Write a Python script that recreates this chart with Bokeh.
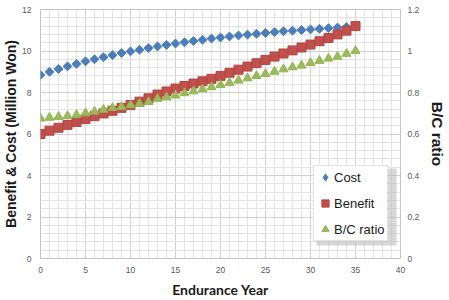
import math
from bokeh.plotting import figure
from bokeh.models import (Range1d, LinearAxis, Legend, LegendItem, CustomJSTickFormatter,
                          BoxAnnotation, FixedTicker)
from bokeh.embed import file_html
from bokeh.resources import INLINE

years = list(range(0, 36))
cost = [8.85, 9.0, 9.13, 9.26, 9.38, 9.5, 9.6, 9.7, 9.8, 9.9, 9.98, 10.06, 10.14, 10.22,
        10.29, 10.36, 10.42, 10.48, 10.54, 10.6, 10.65, 10.7, 10.75, 10.79, 10.83, 10.87,
        10.91, 10.95, 10.98, 11.01, 11.04, 11.07, 11.1, 11.13, 11.15, 11.18]
benefit = [6.0, 6.16, 6.3, 6.44, 6.58, 6.72, 6.86, 6.99, 7.12, 7.26, 7.4, 7.56, 7.72, 7.9,
           8.05, 8.19, 8.31, 8.43, 8.54, 8.66, 8.8, 8.95, 9.1, 9.25, 9.41, 9.57, 9.73, 9.88,
           10.03, 10.17, 10.31, 10.47, 10.63, 10.8, 10.98, 11.2]
bc_ratio = [0.675, 0.679, 0.683, 0.687, 0.692, 0.7, 0.708, 0.717, 0.726, 0.731, 0.739, 0.746,
            0.755, 0.77, 0.777, 0.786, 0.797, 0.806, 0.816, 0.826, 0.837, 0.847, 0.858, 0.869,
            0.88, 0.89, 0.901, 0.912, 0.922, 0.93, 0.943, 0.953, 0.964, 0.973, 0.987, 1.0]
ratio_ticks = [0, 0.2, 0.4, 0.6, 0.8, 1.0, 1.2]

BLUE = "#4A7EBB"
RED = "#C0504D"
GREEN = "#9BBB59"

p = figure(width=449, height=300, output_backend="svg", toolbar_location=None,
           x_range=Range1d(0, 40), y_range=Range1d(0, 12),
           min_border_left=37, min_border_right=46, min_border_top=9, min_border_bottom=42)
p.extra_y_ranges = {"ratio": Range1d(0, 1.2)}
p.background_fill_color = "white"
p.border_fill_color = "white"
p.outline_line_color = "#c4c4c4"

tick_font = "Liberation Sans"
label_color = "#1a1a1a"


def style_axis(ax):
    ax.axis_line_color = None
    ax.major_tick_line_color = None
    ax.minor_tick_line_color = None
    ax.major_tick_out = 0
    ax.major_tick_in = 0
    ax.minor_tick_out = 0
    ax.minor_tick_in = 0
    ax.major_label_text_font = tick_font
    ax.major_label_text_font_size = "8.5px"
    ax.major_label_text_color = "#595959"
    ax.axis_label_text_font_style = "bold"
    ax.axis_label_text_font_size = "14px"
    ax.axis_label_text_color = label_color


style_axis(p.xaxis[0])
style_axis(p.yaxis[0])

p.xaxis[0].ticker.desired_num_ticks = 8
p.xaxis[0].ticker.num_minor_ticks = 5
p.yaxis[0].ticker.num_minor_ticks = 5
p.xaxis[0].major_label_standoff = 8
p.yaxis[0].major_label_standoff = 9

p.xaxis[0].axis_label = "Endurance Year"
p.xaxis[0].axis_label_text_font = "Lato"
p.xaxis[0].axis_label_standoff = 5

p.yaxis[0].axis_label = "Benefit & Cost (Million Won)"
p.yaxis[0].axis_label_text_font = "Liberation Sans"
p.yaxis[0].axis_label_standoff = 0

ry = LinearAxis(y_range_name="ratio", axis_label="B/C ratio",
                ticker=FixedTicker(ticks=ratio_ticks))
style_axis(ry)
ry.major_label_standoff = 7
ry.axis_label_text_font = "Liberation Sans"
ry.axis_label_text_font_size = "15.5px"
ry.axis_label_standoff = 7
ry.formatter = CustomJSTickFormatter(code="return String(Math.round(tick*10)/10);")
p.add_layout(ry, "right")

p.xgrid.grid_line_color = "#d0d0d0"
p.ygrid.grid_line_color = "#d0d0d0"
p.xgrid.minor_grid_line_color = "#e4e4e4"
p.ygrid.minor_grid_line_color = "#e4e4e4"

r_cost = p.scatter(years, cost, marker="square", angle=math.pi / 4, size=6.3,
                   fill_color=BLUE, line_color=BLUE)
r_ben = p.scatter(years, benefit, marker="square", size=9, fill_color=RED, line_color="#B5453F")
r_bc = p.scatter(years, bc_ratio, marker="triangle", size=9, fill_color=GREEN, line_color="#93B353",
                 y_range_name="ratio")
# legend-only swatch for the Cost series (a single undrawable NaN point)
r_cost_key = p.scatter([float("nan")], [float("nan")], marker="diamond", size=8,
                       fill_color=BLUE, line_color=BLUE)

shadow = BoxAnnotation(left=276, right=356, bottom=13, top=90,
                       left_units="screen", right_units="screen", top_units="screen", bottom_units="screen",
                       fill_color="#b8b8b8", fill_alpha=0.55, line_color=None)
p.add_layout(shadow)

legend = Legend(items=[LegendItem(label="Cost", renderers=[r_cost_key]),
                       LegendItem(label="Benefit", renderers=[r_ben]),
                       LegendItem(label="B/C ratio", renderers=[r_bc])],
                location=(273, 17))
legend.label_text_font = "Liberation Sans"
legend.label_text_font_size = "13px"
legend.label_text_color = label_color
legend.glyph_width = 18
legend.glyph_height = 18
legend.label_height = 18
legend.spacing = 8
legend.padding = 2
legend.margin = 0
legend.label_standoff = 0
legend.border_line_color = "#c8c8c8"
legend.background_fill_color = "white"
legend.background_fill_alpha = 1.0
p.add_layout(legend)

open("out.html", "w").write(file_html(p, INLINE))
